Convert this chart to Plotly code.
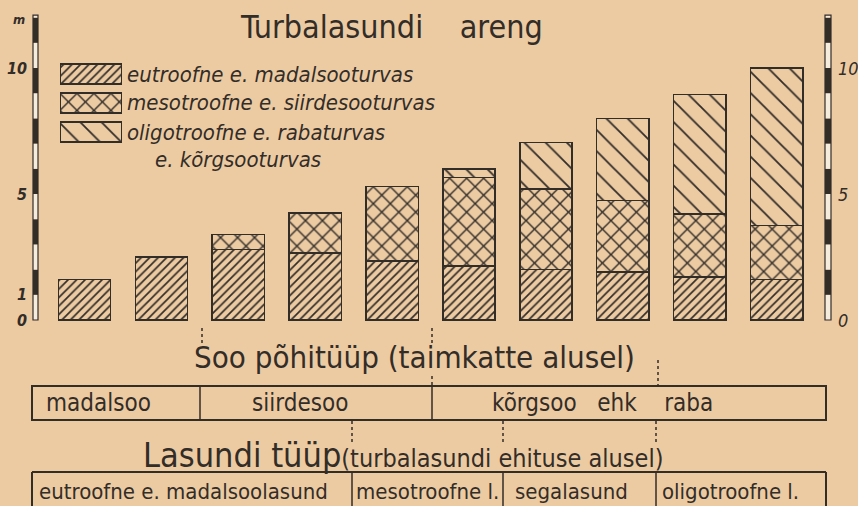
import plotly.graph_objects as go

# ---------------- data ----------------
stages = ["1", "2", "3", "4", "5", "6", "7", "8", "9", "10"]
eutroofne = [1.6, 2.5, 2.8, 2.65, 2.35, 2.15, 2.0, 1.9, 1.7, 1.6]
mesotroofne = [0, 0, 0.6, 1.6, 2.95, 3.5, 3.2, 2.85, 2.5, 2.15]
oligotroofne = [0, 0, 0, 0, 0, 0.35, 1.85, 3.25, 4.75, 6.25]
series_names = ["eutroofne e. madalsooturvas", "mesotroofne e. siirdesooturvas",
                "oligotroofne e. rabaturvas"]
left_ticks = [0, 1, 5, 10]
right_ticks = [0, 5, 10]
scale_top = 12.1

W, H = 858, 506
BG = "#ECCBA3"
INK = "#332D28"
FONT = "DejaVu Sans Condensed, DejaVu Sans, sans-serif"

def px(x):
    return x / W

def py(y):
    return 1 - y / H

# pixel -> data mapping for the main axes (plot area = whole figure)
x0_px, dx_px = 84.5, 76.9
y0_px, dy_px = 320.0, 25.2
x_range = [(0 - x0_px) / dx_px, (W - x0_px) / dx_px]
y_range = [(y0_px - H) / dy_px, (y0_px - 0) / dy_px]

def ydat(ypix):
    return (y0_px - ypix) / dy_px

patterns = [
    dict(shape="/", size=6, solidity=0.28),
    dict(shape="x", size=12, solidity=0.22),
    dict(shape="\\", size=15, solidity=0.12),
]

fig = go.Figure()
xs = list(range(len(stages)))
for vals, name, pat in zip([eutroofne, mesotroofne, oligotroofne], series_names, patterns):
    fig.add_trace(go.Bar(
        x=xs, y=vals, name=name, width=0.68, showlegend=False,
        marker=dict(color=BG, line=dict(color=INK, width=1.5),
                    pattern=dict(shape=pat["shape"], size=pat["size"], solidity=pat["solidity"],
                                 fgcolor=INK, bgcolor=BG, fillmode="replace")),
        hoverinfo="skip",
    ))

# legend swatches drawn as bars on an inset axis
for i, pat in enumerate(patterns):
    fig.add_trace(go.Bar(
        x=[1], y=[2 - i], orientation="h", width=0.68, base=0, showlegend=False,
        xaxis="x2", yaxis="y2", hoverinfo="skip",
        marker=dict(color=BG, line=dict(color=INK, width=1.5),
                    pattern=dict(shape=pat["shape"], size=pat["size"], solidity=pat["solidity"],
                                 fgcolor=INK, bgcolor=BG, fillmode="replace")),
    ))

fig.update_layout(
    width=W, height=H, margin=dict(l=0, r=0, t=0, b=0),
    paper_bgcolor=BG, plot_bgcolor=BG, barmode="stack", showlegend=False,
    xaxis=dict(range=x_range, visible=False, domain=[0, 1]),
    yaxis=dict(range=y_range, visible=False, domain=[0, 1]),
    xaxis2=dict(range=[0, 1], domain=[px(60), px(122)], visible=False, anchor="y2"),
    yaxis2=dict(range=[-0.5, 2.5], domain=[py(146.5), py(59.5)], visible=False, anchor="x2"),
    font=dict(family=FONT, color=INK),
)

shapes = []
ann = []

def text(x, y, t, size, xanchor="center", yref="paper"):
    ann.append(dict(x=x, y=y, xref="paper", yref=yref, text=t, showarrow=False,
                    xanchor=xanchor, yanchor="middle",
                    font=dict(size=size, color=INK, family=FONT)))

# measuring scales on both sides
for (xl, xr) in [(33, 38), (825, 831)]:
    k = 0
    while k < scale_top:
        top = min(k + 1, scale_top)
        shapes.append(dict(type="rect", xref="paper", yref="y", x0=px(xl), x1=px(xr),
                           y0=k, y1=top, line=dict(width=0),
                           fillcolor=INK if k % 2 == 1 else "#F6ECDD"))
        k += 1
    shapes.append(dict(type="rect", xref="paper", yref="y", x0=px(xl), x1=px(xr),
                       y0=0, y1=scale_top, line=dict(color=INK, width=1.2)))

for t in left_ticks:
    text(px(29), t, f"<b><i>{t}</i></b>", 16, xanchor="right", yref="y")
text(px(19), ydat(19), "<b><i>m</i></b>", 13, yref="y")
for t in right_ticks:
    text(px(836), t, f"<i>{t}</i>", 18, xanchor="left", yref="y")

# title
text(px(391), py(27), "Turbalasundi&nbsp;&nbsp;&nbsp;&nbsp;areng", 32)

# legend labels
leg_y = [74, 102.5, 132]
for name, yy in zip(series_names, leg_y):
    text(px(125), py(yy), f"<i>{name}</i>", 22, xanchor="left")
text(px(153), py(160), "<i>e. kõrgsooturvas</i>", 22, xanchor="left")

# table 1
text(px(414), py(357), "Soo põhitüüp (taimkatte alusel)", 31)
shapes.append(dict(type="rect", xref="paper", yref="paper", x0=px(32), x1=px(826),
                   y0=py(420), y1=py(386), line=dict(color=INK, width=2)))
for xv in [200, 432]:
    shapes.append(dict(type="line", xref="paper", yref="paper", x0=px(xv), x1=px(xv),
                       y0=py(420), y1=py(386), line=dict(color=INK, width=1.5)))
for txt, xc in [("madalsoo", 98), ("siirdesoo", 300),
                ("kõrgsoo&nbsp;&nbsp;&nbsp;ehk&nbsp;&nbsp;&nbsp;&nbsp;raba", 602)]:
    text(px(xc), py(403), txt, 24)

# table 2
text(px(403), py(455),
     "<span style='font-size:34px'>Lasundi tüüp</span>"
     "<span style='font-size:25px'>(turbalasundi ehituse alusel)</span>", 25)
for seg in [(px(32), py(472), px(826), py(472)), (px(32), py(472), px(32), py(510)),
            (px(826), py(472), px(826), py(510))]:
    shapes.append(dict(type="line", xref="paper", yref="paper", x0=seg[0], y0=seg[1],
                       x1=seg[2], y1=seg[3], line=dict(color=INK, width=2)))
for xv in [352, 503, 656]:
    shapes.append(dict(type="line", xref="paper", yref="paper", x0=px(xv), x1=px(xv),
                       y0=py(472), y1=py(510), line=dict(color=INK, width=1.5)))
for txt, xc in [("eutroofne e. madalsoolasund", 183), ("mesotroofne l.", 427),
                ("segalasund", 571), ("oligotroofne l.", 730)]:
    text(px(xc), py(491), txt, 22)

# dotted guide marks
for xv, ya, yb in [(202, 328, 346), (432, 328, 346), (432, 376, 386), (658, 360, 386),
                   (352, 421, 445), (503, 421, 445), (656, 421, 445)]:
    shapes.append(dict(type="line", xref="paper", yref="paper", x0=px(xv), x1=px(xv),
                       y0=py(ya), y1=py(yb), line=dict(color=INK, width=1.5, dash="dot")))

fig.update_layout(shapes=shapes, annotations=ann)
fig.write_html("out.html", config={"displayModeBar": False},
               post_script="document.body.style.margin='0';document.body.style.background='" + BG + "';")
